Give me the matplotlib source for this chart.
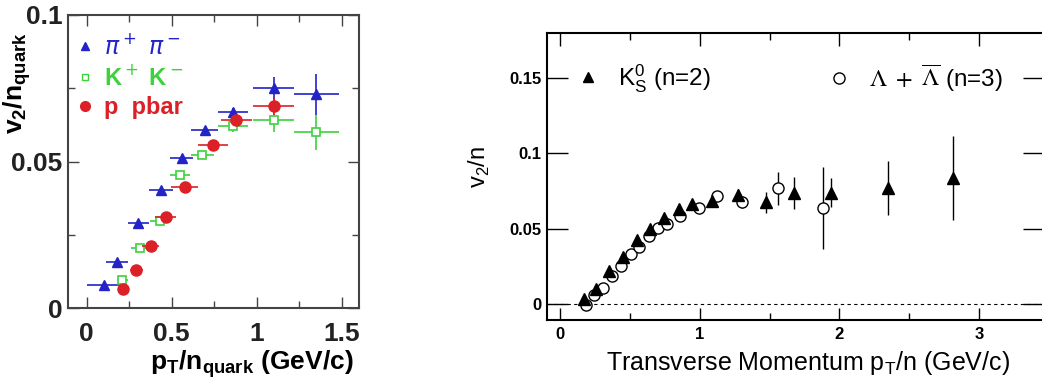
import matplotlib
matplotlib.use('Agg')
import matplotlib.pyplot as plt
from matplotlib.lines import Line2D

plt.rcParams['font.family'] = ['Liberation Sans', 'DejaVu Sans']

# ---------------- Left panel data (v2/n_quark vs pT/n_quark) ----------------
pi_x = [0.10, 0.178, 0.304, 0.435, 0.557, 0.694, 0.859, 1.10, 1.35]
pi_y = [0.0078, 0.0156, 0.0289, 0.0403, 0.0511, 0.0608, 0.0669, 0.0750, 0.0730]
pi_xerr = [0.10, 0.065, 0.06, 0.07, 0.07, 0.08, 0.09, 0.12, 0.13]
pi_yerr = [0.0005, 0.0005, 0.0005, 0.0006, 0.0008, 0.001, 0.0015, 0.004, 0.007]

k_x = [0.21, 0.312, 0.429, 0.547, 0.68, 0.86, 1.10, 1.35]
k_y = [0.0096, 0.0204, 0.0298, 0.0454, 0.0522, 0.0620, 0.0640, 0.0600]
k_xerr = [0.03, 0.05, 0.06, 0.06, 0.07, 0.09, 0.12, 0.13]
k_yerr = [0.001, 0.001, 0.0012, 0.0012, 0.0015, 0.002, 0.004, 0.006]

p_x = [0.214, 0.292, 0.376, 0.463, 0.576, 0.743, 0.88, 1.10]
p_y = [0.0065, 0.0130, 0.0213, 0.0310, 0.0412, 0.0556, 0.0640, 0.0690]
p_xerr = [0.03, 0.04, 0.05, 0.06, 0.08, 0.09, 0.09, 0.12]
p_yerr = [0.0005, 0.0005, 0.0006, 0.0008, 0.001, 0.0012, 0.0015, 0.003]

left_xticks = [0, 0.5, 1, 1.5]
left_xticklabels = ['0', '0.5', '1', '1.5']
left_yticks = [0, 0.05, 0.1]
left_yticklabels = ['0', '0.05', '0.1']

# ---------------- Right panel data (v2/n vs pT/n) ----------------
ks_x = [0.174, 0.258, 0.353, 0.449, 0.549, 0.644, 0.747, 0.850, 0.947, 1.086,
        1.276, 1.472, 1.677, 1.938, 2.346, 2.811]
ks_y = [0.0033, 0.0097, 0.0220, 0.0313, 0.0424, 0.0500, 0.0567, 0.0627, 0.0662, 0.0684,
        0.0722, 0.0673, 0.0737, 0.0737, 0.0770, 0.0837]
ks_err = [0.001, 0.001, 0.001, 0.001, 0.001, 0.0015, 0.0015, 0.002, 0.002, 0.003,
          0.004, 0.0072, 0.0105, 0.0096, 0.0179, 0.0278]

la_x = [0.184, 0.243, 0.310, 0.375, 0.439, 0.506, 0.568, 0.635, 0.699, 0.768,
        0.859, 0.995, 1.126, 1.300, 1.563, 1.880]
la_y = [-0.0007, 0.0060, 0.0104, 0.0185, 0.0252, 0.0329, 0.0380, 0.0450, 0.0505, 0.0530,
        0.0585, 0.0638, 0.0715, 0.0678, 0.0766, 0.0634]
la_err = [0.001, 0.001, 0.001, 0.001, 0.001, 0.001, 0.0012, 0.0012, 0.0015, 0.0015,
          0.002, 0.002, 0.003, 0.004, 0.011, 0.0272]

right_xticks = [0, 1, 2, 3]
right_xticklabels = ['0', '1', '2', '3']
right_yticks = [0, 0.05, 0.1, 0.15]
right_yticklabels = ['0', '0.05', '0.1', '0.15']

W, H = 1042, 383
fig = plt.figure(figsize=(W / 100, H / 100), dpi=100)

# ================= Left panel =================
axL = fig.add_axes([68 / W, 1 - 308 / H, 291 / W, 293 / H])
blue, green, red = '#2323c8', '#3cd23c', '#dc2028'
axL.errorbar(pi_x, pi_y, xerr=pi_xerr, yerr=pi_yerr, fmt='^', color=blue, ms=7,
             elinewidth=1.2, capsize=0, zorder=3)
axL.errorbar(k_x, k_y, xerr=k_xerr, yerr=k_yerr, fmt='s', color=green, mfc='white',
             mec=green, ms=6, mew=1.2, elinewidth=1.2, capsize=0, zorder=3)
axL.errorbar(p_x, p_y, xerr=p_xerr, yerr=p_yerr, fmt='o', color=red, ms=8,
             elinewidth=1.2, capsize=0, zorder=4)
axL.set_xlim(-0.11, 1.6)
axL.set_ylim(0, 0.1)
axL.set_xticks(left_xticks, left_xticklabels)
axL.set_yticks(left_yticks, left_yticklabels)
axL.set_xticks([0.25, 0.75, 1.25], minor=True)
axL.set_yticks([0.025, 0.075], minor=True)
axL.tick_params(which='both', direction='in', top=True, right=True, color='#444444')
axL.tick_params(which='major', length=8, width=1)
axL.tick_params(which='minor', length=5, width=1)
axL.tick_params(axis='x', pad=10)
axL.tick_params(axis='y', pad=4)
for lab in axL.get_xticklabels() + axL.get_yticklabels():
    lab.set_fontsize(19)
    lab.set_fontweight('bold')
    lab.set_color('#222222')
for s in axL.spines.values():
    s.set_linewidth(1.5)
    s.set_color('#444444')
axL.set_ylabel(r'v$_\mathregular{2}$/n$_\mathregular{quark}$', fontsize=19,
               fontweight='bold', loc='top')
axL.yaxis.set_label_coords(-0.12, 0.94)
axL.set_xlabel(r'p$_\mathregular{T}$/n$_\mathregular{quark}$ (GeV/c)', fontsize=19,
               fontweight='bold', loc='right')
axL.xaxis.set_label_coords(0.98, -0.135)

hL = [Line2D([], [], ls='none', marker='^', color=blue, ms=6),
      Line2D([], [], ls='none', marker='s', mfc='white', mec=green, ms=5, mew=1),
      Line2D([], [], ls='none', marker='o', color=red, ms=7)]
legL = axL.legend(hL, [r'$\pi^+\ \pi^-$', r'K$^+$ K$^-$', 'p  pbar'],
                  loc='upper left', bbox_to_anchor=(0.025, 0.935), frameon=False,
                  borderpad=0, borderaxespad=0, handlelength=0.8, handletextpad=0.4,
                  labelspacing=0.25, prop={'size': 17, 'weight': 'bold'})
for t, c in zip(legL.get_texts(), [blue, green, red]):
    t.set_color(c)

# ================= Right panel =================
axR = fig.add_axes([547 / W, 1 - 320 / H, 497 / W, 287 / H])
axR.axhline(0, color='black', lw=0.8, ls=(0, (3, 3)), zorder=1)
axR.errorbar(la_x, la_y, yerr=la_err, fmt='o', color='black', mfc='white', mec='black',
             ms=8, mew=1.0, elinewidth=1.0, capsize=0, zorder=3)
axR.errorbar(ks_x, ks_y, yerr=ks_err, fmt='^', color='black', ms=8,
             elinewidth=1.0, capsize=0, zorder=4)
axR.set_xlim(-0.093, 3.465)
axR.set_ylim(-0.0106, 0.1795)
axR.set_xticks(right_xticks, right_xticklabels)
axR.set_yticks(right_yticks, right_yticklabels)
axR.set_xticks([0.5, 1.5, 2.5], minor=True)
axR.tick_params(which='both', direction='in', top=True, right=True)
axR.tick_params(axis='x', which='major', length=9, width=1, pad=5)
axR.tick_params(axis='x', which='minor', length=5, width=1)
axR.tick_params(axis='y', which='major', length=15, width=1, pad=4)
for lab in axR.get_xticklabels() + axR.get_yticklabels():
    lab.set_fontsize(12)
    lab.set_fontweight('bold')
for s in axR.spines.values():
    s.set_linewidth(1.5)
axR.set_ylabel(r'v$_\mathregular{2}$/n', fontsize=17)
axR.yaxis.set_label_coords(-0.111, 0.533)
axR.set_xlabel(r'Transverse Momentum p$_\mathregular{T}$/n (GeV/c)', fontsize=18)
axR.xaxis.set_label_coords(0.525, -0.1)

h1 = Line2D([], [], ls='none', marker='^', color='black', ms=7)
h2 = Line2D([], [], ls='none', marker='o', mfc='white', mec='black', ms=8, mew=1)
leg1 = axR.legend([h1], [r'K$^\mathregular{0}_\mathregular{S}$ (n=2)'], loc='center left',
                  bbox_to_anchor=(0.0588, 0.843), frameon=False, borderpad=0,
                  borderaxespad=0, handlelength=1.0, handletextpad=0.73,
                  prop={'size': 17.5})
axR.add_artist(leg1)
leg2 = axR.legend([h2], [r'$\Lambda\ +\ \overline{\Lambda}$ (n=3)'], loc='center left',
                  bbox_to_anchor=(0.5638, 0.843), frameon=False, borderpad=0,
                  borderaxespad=0, handlelength=1.0, handletextpad=0.73,
                  prop={'size': 17.5})
for t in leg2.get_texts():
    t.set_math_fontfamily('stix')

fig.savefig('out.png', dpi=100)
